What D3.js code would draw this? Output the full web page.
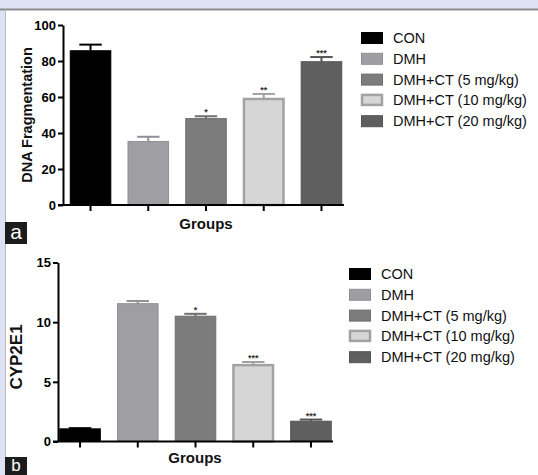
<!DOCTYPE html>
<html>
<head>
<meta charset="utf-8">
<script src="https://cdn.jsdelivr.net/npm/d3@7"></script>
<style>
  body { margin: 0; background: #fff; }
  svg { display: block; font-family: "Liberation Sans", Arial, sans-serif; }
</style>
</head>
<body>
<div id="chart"></div>
<script>
'use strict';

// data
const groups = ['CON', 'DMH', 'DMH+CT (5 mg/kg)', 'DMH+CT (10 mg/kg)', 'DMH+CT (20 mg/kg)'];
const dnaMeans = [85.7, 35.3, 48.0, 58.9, 79.6];
const dnaErrors = [3.4, 2.6, 1.3, 2.8, 2.6];
const dnaStars = ['', '', '*', '**', '***'];
const dnaTicks = [0, 20, 40, 60, 80, 100];
const cypMeans = [1.06, 11.55, 10.5, 6.4, 1.7];
const cypErrors = [0.06, 0.22, 0.2, 0.26, 0.14];
const cypStars = ['', '', '*', '***', '***'];
const cypTicks = [0, 5, 10, 15];

const fills = ['#000000', '#9e9ea3', '#7c7c7c', '#d6d6d6', '#5f5f5f'];
const strokes = ['#000000', '#909095', '#6f6f6f', '#a2a2a2', '#545454'];

let w = 538, h = 475;
let svg = d3.select('#chart').append('svg').attr('width', w).attr('height', h);

// frame: lavender band on top and left
svg.append('rect').attr('width', w).attr('height', h).attr('fill', '#dfe2f2');
svg.append('rect').attr('x', 6).attr('y', 10).attr('width', w - 6).attr('height', h - 10).attr('fill', '#fff');
svg.append('line').attr('x1', 0).attr('x2', w).attr('y1', 9.5).attr('y2', 9.5)
    .attr('stroke', '#8b8b8b').attr('stroke-width', 2);
svg.append('line').attr('x1', 5.5).attr('x2', 5.5).attr('y1', 9).attr('y2', h)
    .attr('stroke', '#b8b8c0').attr('stroke-width', 1);

function drawPanel(o) {
    let g = svg.append('g');

    let y = d3.scaleLinear().domain(o.domain).range([o.y0, o.y1]);
    let x = d3.scaleBand().domain(groups).range(o.xRange).paddingInner(0.28).paddingOuter(0);

    // y axis
    let yAxis = g.append('g')
        .attr('transform', `translate(${o.axisX},0)`)
        .call(d3.axisLeft(y).tickValues(o.ticks).tickSize(5).tickSizeOuter(0).tickPadding(2));
    yAxis.select('.domain').attr('stroke', '#000').attr('stroke-width', 2);
    yAxis.selectAll('.tick line').attr('stroke', '#000').attr('stroke-width', 2);
    yAxis.selectAll('.tick text').attr('font-size', 13).attr('font-weight', 'bold')
        .attr('fill', '#000').attr('font-family', '"Liberation Sans", Arial, sans-serif');

    // bars
    g.selectAll('rect.bar').data(o.means).join('rect').attr('class', 'bar')
        .attr('x', (d, i) => x(groups[i]) + (i === 3 ? 1 : 0.5))
        .attr('width', (d, i) => x.bandwidth() - (i === 3 ? 2 : 1))
        .attr('y', d => y(d))
        .attr('height', d => y(0) - y(d))
        .attr('fill', (d, i) => fills[i])
        .attr('stroke', (d, i) => strokes[i])
        .attr('stroke-width', (d, i) => i === 3 ? 2.5 : 1);

    // error bars
    let capW = x.bandwidth() * 0.54;
    o.means.forEach((m, i) => {
        let cx = x(groups[i]) + x.bandwidth() / 2;
        let top = y(m + o.errors[i]);
        g.append('line').attr('x1', cx).attr('x2', cx).attr('y1', y(m)).attr('y2', top)
            .attr('stroke', strokes[i]).attr('stroke-width', 2);
        g.append('line').attr('x1', cx - capW / 2).attr('x2', cx + capW / 2).attr('y1', top).attr('y2', top)
            .attr('stroke', strokes[i]).attr('stroke-width', 2);
        if (o.stars[i]) {
            g.append('text').attr('x', cx).attr('y', top - 1)
                .attr('text-anchor', 'middle').attr('font-size', 9).attr('font-weight', 'bold')
                .attr('fill', '#333').text(o.stars[i]);
        }
    });

    // x axis
    let xAxis = g.append('g')
        .attr('transform', `translate(0,${o.y0})`)
        .call(d3.axisBottom(x).tickSize(6).tickFormat(''));
    xAxis.select('.domain').remove();
    xAxis.selectAll('.tick line').attr('stroke', '#000').attr('stroke-width', 2);
    g.append('line').attr('x1', o.axisX - 5).attr('x2', o.axisEnd).attr('y1', o.y0).attr('y2', o.y0)
        .attr('stroke', '#000').attr('stroke-width', 2);

    // axis titles
    g.append('text').attr('x', o.groupsX).attr('y', o.groupsY).attr('text-anchor', 'middle')
        .attr('font-size', 15).attr('font-weight', 'bold').attr('fill', '#111').text('Groups');
    g.append('text')
        .attr('transform', `translate(${o.titleX},${o.titleY}) rotate(-90)`)
        .attr('text-anchor', 'middle').attr('font-size', o.titleSize).attr('font-weight', 'bold')
        .attr('fill', '#111').text(o.title);

    // legend
    let leg = g.append('g').attr('transform', `translate(${o.legX},${o.legY})`);
    groups.forEach((name, i) => {
        let row = leg.append('g').attr('transform', `translate(0,${i * 20.8})`);
        row.append('rect').attr('x', i === 3 ? 1 : 0.5).attr('y', -5.5)
            .attr('width', i === 3 ? 20 : 21).attr('height', i === 3 ? 10 : 11)
            .attr('fill', fills[i]).attr('stroke', strokes[i]).attr('stroke-width', i === 3 ? 2.5 : 1);
        row.append('text').attr('x', 32).attr('y', 5).attr('font-size', 14.5)
            .attr('fill', '#111').text(name);
    });

    // panel letter
    g.append('rect').attr('x', 5).attr('y', o.labelY).attr('width', 22).attr('height', o.labelH).attr('fill', '#1c1c1c');
    g.append('text').attr('x', 16).attr('y', o.labelY + o.labelBase).attr('text-anchor', 'middle')
        .attr('font-size', o.labelSize).attr('fill', '#fff').text(o.letter);
}

drawPanel({
    means: dnaMeans, errors: dnaErrors, stars: dnaStars, ticks: dnaTicks,
    domain: [0, 100], y0: 205, y1: 25,
    axisX: 63, axisEnd: 344, xRange: [69.75, 342.25],
    title: 'DNA Fragmentation', titleX: 32, titleY: 115, titleSize: 14.5,
    groupsX: 206, groupsY: 229,
    legX: 361, legY: 38,
    letter: 'a', labelY: 222, labelH: 22, labelBase: 17, labelSize: 21
});

drawPanel({
    means: cypMeans, errors: cypErrors, stars: cypStars, ticks: cypTicks,
    domain: [0, 15], y0: 441.5, y1: 262.5,
    axisX: 58, axisEnd: 333, xRange: [59.25, 331.75],
    title: 'CYP2E1', titleX: 22, titleY: 357, titleSize: 17,
    groupsX: 195, groupsY: 463,
    legX: 349, legY: 274,
    letter: 'b', labelY: 457, labelH: 18, labelBase: 13.5, labelSize: 17
});
</script>
</body>
</html>
